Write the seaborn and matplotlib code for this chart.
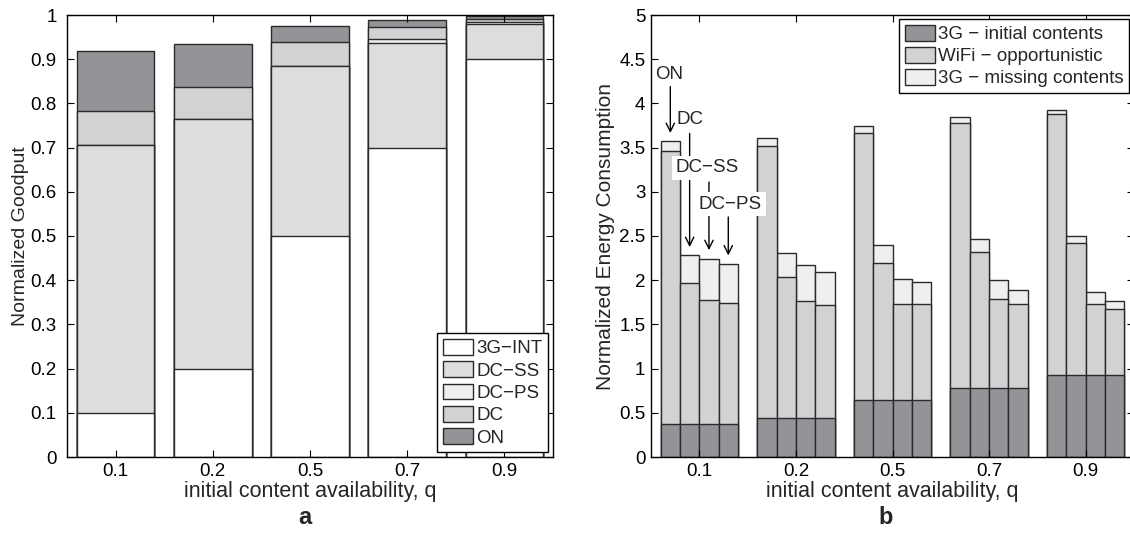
import numpy as np
import pandas as pd
import matplotlib
matplotlib.use("Agg")
import matplotlib.pyplot as plt
import seaborn as sns
from matplotlib.patches import Patch
from matplotlib.ticker import FuncFormatter, MultipleLocator

# ---------------- data ----------------
q_labels = ["0.1", "0.2", "0.5", "0.7", "0.9"]

# panel a: cumulative tops of the stacked goodput bars
gp_3gint = [0.100, 0.200, 0.500, 0.700, 0.900]
gp_dcss = [0.707, 0.765, 0.885, 0.936, 0.979]
gp_dcps = [0.707, 0.765, 0.885, 0.946, 0.985]
gp_dc = [0.783, 0.837, 0.938, 0.972, 0.992]
gp_on = [0.918, 0.934, 0.976, 0.988, 0.998]

# panel b: energy, schemes within each q group
schemes = ["ON", "DC", "DC-SS", "DC-PS"]
init_3g = [0.37, 0.445, 0.649, 0.785, 0.924]          # 3G - initial contents
wifi_top_on = [3.46, 3.518, 3.67, 3.775, 3.877]       # top of WiFi segment
wifi_top_dc = [1.965, 2.033, 2.199, 2.316, 2.417]
wifi_top_dcss = [1.776, 1.769, 1.735, 1.792, 1.727]
wifi_top_dcps = [1.747, 1.724, 1.735, 1.731, 1.674]
total_on = [3.575, 3.613, 3.749, 3.846, 3.925]        # top incl. 3G missing
total_dc = [2.285, 2.308, 2.403, 2.470, 2.505]
total_dcss = [2.240, 2.169, 2.014, 2.007, 1.863]
total_dcps = [2.183, 2.093, 1.976, 1.889, 1.765]

# ---------------- style ----------------
sns.set_theme(style="ticks")
plt.rcParams["font.family"] = ["Liberation Sans", "DejaVu Sans"]
plt.rcParams["axes.unicode_minus"] = True

C_ON = "#929497"
C_DC = "#d1d2d4"
C_DCSS = "#dcdddf"
C_DCPS = "#eeeff1"
C_INT = "#ffffff"
EDGE = "#2a2a2a"
LW = 1.0

fig = plt.figure(figsize=(11.30, 5.40), dpi=100)
axA = fig.add_axes([67 / 1130, 83 / 540, 486 / 1130, 442 / 540])
axB = fig.add_axes([651 / 1130, 83 / 540, 483 / 1130, 442 / 540])

# ---------------- panel a ----------------
dfa = pd.DataFrame({"q": q_labels, "ON": gp_on, "DC": gp_dc, "DC-PS": gp_dcps,
                    "DC-SS": gp_dcss, "3G-INT": gp_3gint})
for col, colr in [("ON", C_ON), ("DC", C_DC), ("DC-PS", C_DCPS),
                  ("DC-SS", C_DCSS), ("3G-INT", C_INT)]:
    sns.barplot(data=dfa, x="q", y=col, order=q_labels, color=colr, saturation=1,
                width=0.8, edgecolor=EDGE, linewidth=LW, errorbar=None, ax=axA)

axA.set_ylim(0, 1)
axA.set_xlim(-0.5, 4.5)
axA.yaxis.set_major_locator(MultipleLocator(0.1))
axA.yaxis.set_major_formatter(FuncFormatter(lambda v, p: "%g" % round(v, 2)))
axA.set_ylabel("Normalized Goodput", fontsize=14, labelpad=1)
axA.set_xlabel("initial content availability, q", fontsize=15.5, labelpad=1)

legA = [Patch(facecolor=C_INT, edgecolor=EDGE, label="3G\u2212INT"),
        Patch(facecolor=C_DCSS, edgecolor=EDGE, label="DC\u2212SS"),
        Patch(facecolor=C_DCPS, edgecolor=EDGE, label="DC\u2212PS"),
        Patch(facecolor=C_DC, edgecolor=EDGE, label="DC"),
        Patch(facecolor=C_ON, edgecolor=EDGE, label="ON")]
lA = axA.legend(handles=legA, loc="lower right", fontsize=13.5, frameon=True,
                fancybox=False, edgecolor="black", framealpha=1,
                handlelength=1.6, handleheight=0.9, handletextpad=0.2,
                labelspacing=0.22, borderpad=0.3, borderaxespad=0.25)
lA.get_frame().set_linewidth(1.0)

# ---------------- panel b ----------------
rows = []
for i, q in enumerate(q_labels):
    for s, wt, tt in zip(schemes,
                         [wifi_top_on, wifi_top_dc, wifi_top_dcss, wifi_top_dcps],
                         [total_on, total_dc, total_dcss, total_dcps]):
        rows.append({"q": q, "scheme": s, "total": tt[i], "wifi": wt[i],
                     "init": init_3g[i]})
dfb = pd.DataFrame(rows)

for col, colr in [("total", C_DCPS), ("wifi", C_DC), ("init", C_ON)]:
    sns.barplot(data=dfb, x="q", y=col, hue="scheme", order=q_labels,
                hue_order=schemes, palette=[colr] * 4, saturation=1, width=0.8,
                dodge=True, gap=0, edgecolor=EDGE, linewidth=LW,
                errorbar=None, legend=False, ax=axB)

axB.set_ylim(0, 5)
axB.set_xlim(-0.5, 4.5)
axB.yaxis.set_major_locator(MultipleLocator(0.5))
axB.yaxis.set_major_formatter(FuncFormatter(lambda v, p: "%g" % round(v, 2)))
axB.set_ylabel("Normalized Energy Consumption", fontsize=15, labelpad=3)
axB.set_xlabel("initial content availability, q", fontsize=15.5, labelpad=1)

legB = [Patch(facecolor=C_ON, edgecolor=EDGE, label="3G \u2212 initial contents"),
        Patch(facecolor=C_DC, edgecolor=EDGE, label="WiFi \u2212 opportunistic"),
        Patch(facecolor=C_DCPS, edgecolor=EDGE, label="3G \u2212 missing contents")]
lB = axB.legend(handles=legB, loc="upper right", bbox_to_anchor=(1129 / 1130, 1 - 19 / 540),
                bbox_transform=fig.transFigure, borderaxespad=0, fontsize=13.5,
                frameon=True, fancybox=False, edgecolor="black", framealpha=1,
                handlelength=1.6, handleheight=0.95, handletextpad=0.15,
                labelspacing=0.19, borderpad=0.3)
lB.get_frame().set_linewidth(1.0)

# annotations
arrow_kw = dict(arrowstyle="->,head_length=0.5,head_width=0.25", color="black", lw=1.0,
                shrinkA=0, shrinkB=0)
fs_ann = 13.5
axB.text(-0.31, 4.33, "ON", fontsize=fs_ann, ha="center", va="center", zorder=6)
axB.annotate("", xy=(-0.3, 3.665), xytext=(-0.3, 4.19), arrowprops=arrow_kw, zorder=5)
axB.text(-0.1, 3.82, "DC", fontsize=fs_ann, ha="center", va="center", zorder=6)
axB.annotate("", xy=(-0.1, 2.375), xytext=(-0.1, 3.66), arrowprops=arrow_kw, zorder=5)
axB.text(0.085, 3.27, "DC\u2212SS", fontsize=fs_ann, ha="center", va="center", zorder=7,
         bbox=dict(boxstyle="square,pad=0.2", facecolor="white", edgecolor="none"))
axB.annotate("", xy=(0.1, 2.34), xytext=(0.1, 3.11), arrowprops=arrow_kw, zorder=5)
axB.text(0.32, 2.86, "DC\u2212PS", fontsize=fs_ann, ha="center", va="center", zorder=8,
         bbox=dict(boxstyle="square,pad=0.2", facecolor="white", edgecolor="none"))
axB.annotate("", xy=(0.3, 2.28), xytext=(0.3, 2.715), arrowprops=arrow_kw, zorder=5)

# common axes styling (MATLAB-like box with inward ticks)
for ax, pad in ((axA, 7.5), (axB, 4)):
    for sp in ax.spines.values():
        sp.set_visible(True)
        sp.set_color("black")
        sp.set_linewidth(1.0)
    ax.tick_params(direction="in", length=5, width=0.8, top=True, right=True,
                   labelsize=13.5, colors="black")
    ax.tick_params(axis="y", pad=pad)
    ax.tick_params(axis="x", pad=4)
    ax.set_axisbelow(False)

fig.text(305 / 1130, 1 - 517 / 540, "a", fontsize=17, fontweight="bold",
         ha="center", va="center")
fig.text(886 / 1130, 1 - 517 / 540, "b", fontsize=17, fontweight="bold",
         ha="center", va="center")

fig.savefig("out.png", dpi=100)
